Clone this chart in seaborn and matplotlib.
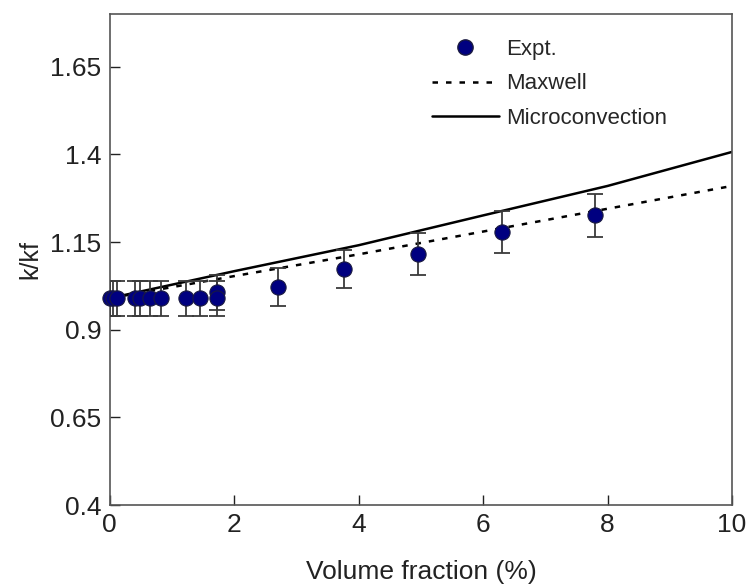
import matplotlib
matplotlib.use("Agg")
import matplotlib.pyplot as plt
import seaborn as sns
import pandas as pd
from matplotlib.lines import Line2D

# Experimental data
phi_expt = [0.0, 0.05, 0.12, 0.41, 0.48, 0.64, 0.83, 1.23, 1.45, 1.73, 1.73, 2.70, 3.77, 4.96, 6.31, 7.79]
k_expt = [0.99, 0.99, 0.99, 0.99, 0.99, 0.99, 0.99, 0.99, 0.99, 1.007, 0.99, 1.022, 1.074, 1.116, 1.178, 1.226]
err_expt = [0.05, 0.05, 0.05, 0.05, 0.05, 0.05, 0.05, 0.05, 0.05, 0.05, 0.05, 0.053, 0.054, 0.06, 0.06, 0.062]

# Models
phi_model = [0, 2, 4, 6, 8, 10]
k_maxwell = [0.99, 1.053, 1.115, 1.18, 1.245, 1.31]
k_micro = [0.99, 1.067, 1.141, 1.226, 1.31, 1.407]

xticks = [0, 2, 4, 6, 8, 10]
yticks = [0.4, 0.65, 0.9, 1.15, 1.4, 1.65]
ytick_labels = ["0.4", "0.65", "0.9", "1.15", "1.4", "1.65"]

sns.set_style("white")
plt.rcParams['font.family'] = ['Liberation Sans', 'DejaVu Sans']

fig = plt.figure(figsize=(7.47, 5.86), dpi=100)
ax = fig.add_axes([0.147, 0.138, 0.833, 0.838])

df_m = pd.DataFrame({"phi": phi_model, "k": k_maxwell})
df_c = pd.DataFrame({"phi": phi_model, "k": k_micro})
df_e = pd.DataFrame({"phi": phi_expt, "k": k_expt, "err": err_expt})

sns.lineplot(data=df_c, x="phi", y="k", ax=ax, color="black", lw=1.8, zorder=2)
sns.lineplot(data=df_m, x="phi", y="k", ax=ax, color="black", lw=1.8, zorder=2,
             dashes=False)
ax.lines[-1].set_dashes((2.2, 3.2))

ax.errorbar(df_e["phi"], df_e["k"], yerr=df_e["err"], fmt="none",
            ecolor="#3a3a3a", elinewidth=1.3, capsize=6, capthick=1.3, zorder=3)
sns.scatterplot(data=df_e, x="phi", y="k", ax=ax, color="#000080", s=120,
                edgecolor="#1a1a40", linewidth=0.8, zorder=4, clip_on=False)

ax.set_xlim(0, 10)
ax.set_ylim(0.4, 1.8)
ax.set_xticks(xticks)
ax.set_yticks(yticks)
ax.set_yticklabels(ytick_labels)
ax.tick_params(axis="both", direction="in", length=7, width=1, labelsize=19,
               colors="#222222", top=False, right=False, bottom=True, left=True, pad=6)
ax.set_xlabel("Volume fraction (%)", fontsize=19, color="#222222", labelpad=16)
ax.set_ylabel("k/kf", fontsize=18, color="#222222", labelpad=6)
for s in ax.spines.values():
    s.set_color("#555555")
    s.set_linewidth(1.2)

handles = [
    Line2D([], [], ls="none", marker="o", markersize=11, markerfacecolor="#000080",
           markeredgecolor="#1a1a40"),
    Line2D([], [], color="black", lw=1.8, dashes=(2.2, 3.2)),
    Line2D([], [], color="black", lw=1.8),
]
ax.legend(handles, ["Expt.", "Maxwell", "Microconvection"], loc="upper left",
          bbox_to_anchor=(0.518, 0.950), frameon=False, fontsize=16, handlelength=3.0,
          handletextpad=0.35, labelspacing=0.62, borderpad=0, borderaxespad=0)

fig.savefig("out.png", dpi=100)
